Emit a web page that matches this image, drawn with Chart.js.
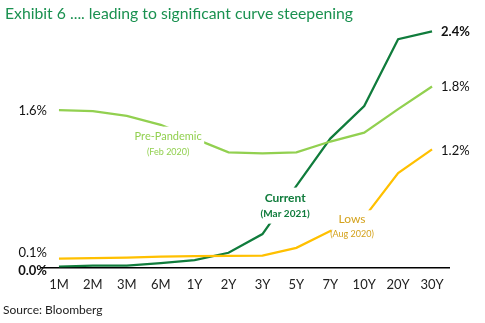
<!DOCTYPE html>
<html><head><meta charset="utf-8">
<script src="https://cdn.jsdelivr.net/npm/chart.js@4"></script>
<style>html,body{margin:0;padding:0;background:#fff}#wrap{width:485px;height:323px;position:relative}</style>
</head><body><div id="wrap"><canvas id="c" width="485" height="323"></canvas></div>
<script>
const categories = ['1M','2M','3M','6M','1Y','2Y','3Y','5Y','7Y','10Y','20Y','30Y'];
const preValues     = [1.60,1.59,1.54,1.45,1.31,1.17,1.16,1.17,1.28,1.37,1.61,1.84];
const currentValues = [0.01,0.02,0.02,0.045,0.076,0.15,0.34,0.83,1.31,1.64,2.32,2.40];
const lowsValues    = [0.09,0.095,0.10,0.11,0.115,0.117,0.12,0.20,0.37,0.51,0.96,1.20];
const seriesNames = ['Pre-Pandemic','Current','Lows'];
const seriesDates = ['(Feb 2020)','(Mar 2021)','(Aug 2020)'];
const titleText = 'Exhibit 6 .... leading to significant curve steepening';
const sourceText = 'Source: Bloomberg';

const FONT = 'Lato';
const styles = [
  {color:'#92d050', text:'#92d050', bold:false, leftDy:1, rightDy:0, ann:{x:3.22, y:1.33, s1:11, s2:9, box:[-35,-10,36,23]}},
  {color:'#107c3c', text:'#107c3c', bold:true, leftDy:4, rightDy:0, ann:{x:6.67, y:0.70, s1:12, s2:10, box:[-23,-11,25,25]}},
  {color:'#ffc000', text:'#d4a21c', bold:false, leftDy:-6, rightDy:1, ann:{x:8.64, y:0.49, s1:12, s2:9, box:[-21,-9,22,22]}}
];
const seriesValues = [preValues, currentValues, lowsValues];

function xAt(xs, idx){
  const i0 = Math.floor(idx), f = idx - i0;
  const a = xs.getPixelForValue(i0), b = xs.getPixelForValue(i0+1);
  return a + (b-a)*f;
}

const labelPlugin = {
  id:'labels',
  afterDatasetsDraw(chart){
    const ctx = chart.ctx, xs = chart.scales.x, ys = chart.scales.y;
    ctx.save();
    // annotations
    styles.forEach((st,i)=>{
      const cx = xAt(xs, st.ann.x), cy = ys.getPixelForValue(st.ann.y);
      const b = st.ann.box;
      ctx.fillStyle = '#fff';
      ctx.fillRect(cx+b[0], cy+b[1], b[2]-b[0], b[3]-b[1]);
      ctx.fillStyle = st.text;
      ctx.textAlign='center'; ctx.textBaseline='middle';
      ctx.font = (st.bold?'bold ':'') + st.ann.s1 + 'px ' + FONT;
      ctx.fillText(seriesNames[i], cx, cy);
      ctx.font = (st.bold?'bold ':'') + st.ann.s2 + 'px ' + FONT;
      ctx.fillText(seriesDates[i], cx, cy+15);
    });
    // end labels
    styles.forEach((st,i)=>{
      const vals = seriesValues[i];
      ctx.fillStyle = '#111';
      ctx.font = (st.bold?'bold ':'') + '13px ' + FONT;
      ctx.textBaseline='middle';
      ctx.textAlign='right';
      ctx.fillText(vals[0].toFixed(1)+'%', xs.getPixelForValue(0)-12, ys.getPixelForValue(vals[0])+st.leftDy);
      ctx.textAlign='left';
      const n = vals.length-1;
      ctx.fillText(vals[n].toFixed(1)+'%', xs.getPixelForValue(n)+9, ys.getPixelForValue(vals[n])+st.rightDy);
    });
    // title
    ctx.textAlign='left'; ctx.textBaseline='middle';
    ctx.font = '16px ' + FONT;
    const w = ctx.measureText(titleText).width;
    const fs = 16*348/w;
    ctx.font = fs.toFixed(2)+'px ' + FONT;
    ctx.fillStyle = '#1a9150';
    ctx.fillText(titleText, 5, 14);
    ctx.font = '12px ' + FONT;
    ctx.fillStyle = '#222';
    ctx.fillText(sourceText, 3, 310);
    ctx.restore();
  }
};

new Chart(document.getElementById('c'), {
  type:'line',
  data:{
    labels: categories,
    datasets: [
      {label:seriesNames[2], data:lowsValues, borderColor:styles[2].color, borderWidth:2.25, pointRadius:0, tension:0, fill:false},
      {label:seriesNames[0], data:preValues, borderColor:styles[0].color, borderWidth:2.25, pointRadius:0, tension:0, fill:false},
      {label:seriesNames[1], data:currentValues, borderColor:styles[1].color, borderWidth:2.25, pointRadius:0, tension:0, fill:false}
    ]
  },
  options:{
    responsive:false, animation:false,
    layout:{padding:{left:42,right:36,top:21.5,bottom:25.5}},
    plugins:{legend:{display:false}, title:{display:false}, tooltip:{enabled:false}},
    scales:{
      x:{offset:true, grid:{display:false, drawTicks:false}, border:{display:true,color:'#000',width:1.5},
         ticks:{font:{family:FONT,size:13}, color:'#222', padding:10, maxRotation:0, autoSkip:false},
         afterFit(s){ s.height = 30; }},
      y:{display:false, min:0, max:2.5}
    }
  },
  plugins:[labelPlugin]
});
</script>
</body></html>
